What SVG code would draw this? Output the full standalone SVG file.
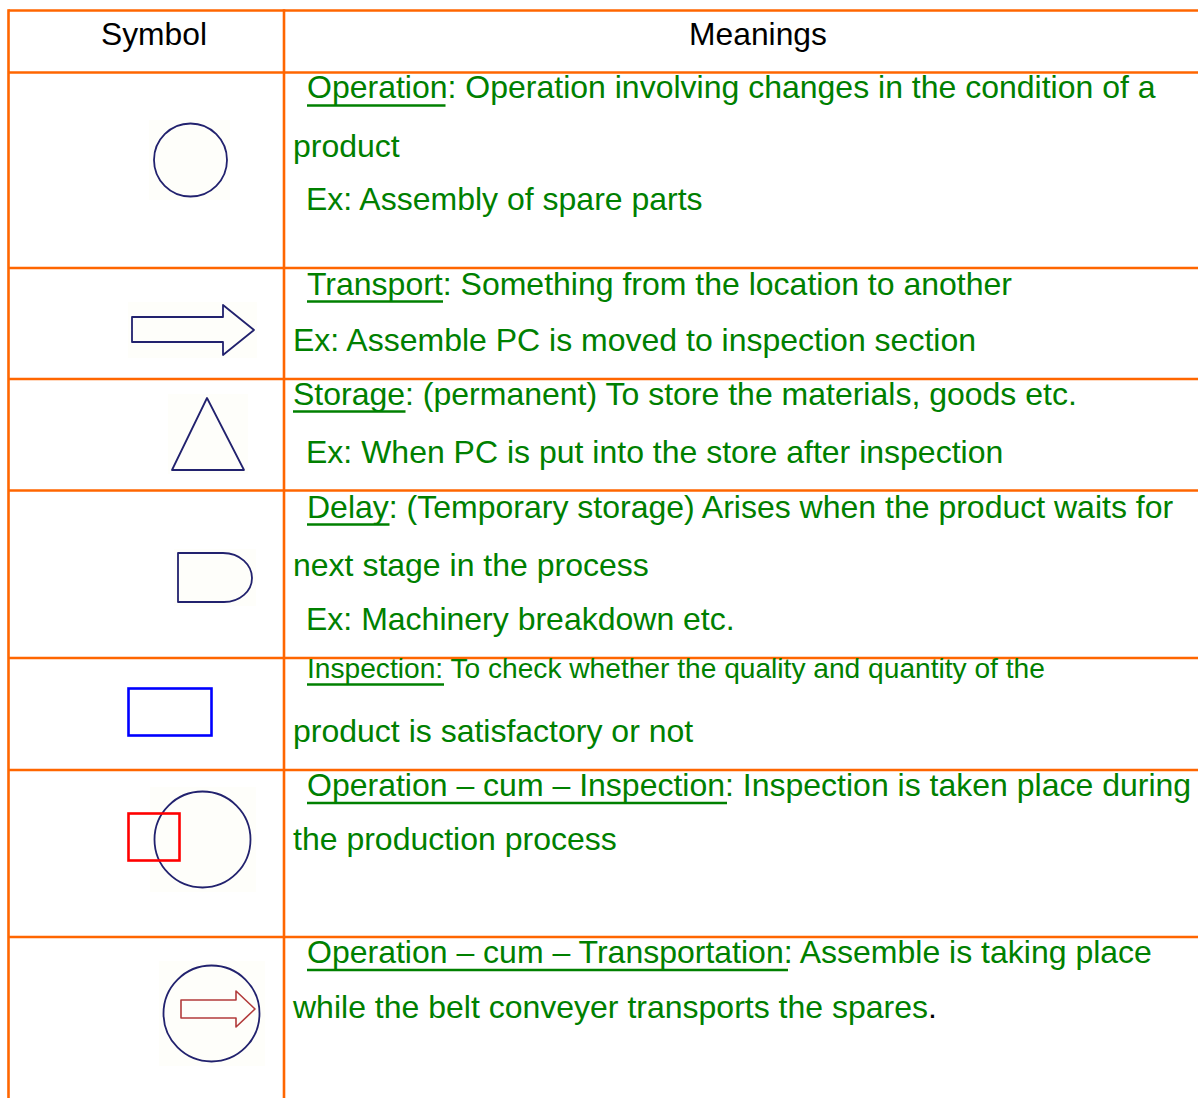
<svg xmlns="http://www.w3.org/2000/svg" width="1198" height="1098" viewBox="0 0 1198 1098">
  <style>
    .grid { stroke: #ff6600; stroke-width: 2.6; fill: none; }
    .head { font-family: "Liberation Sans", Arial, sans-serif; font-size: 31.8px; fill: #000000; text-anchor: middle; }
    .txt { font-family: "Liberation Sans", Arial, sans-serif; font-size: 32px; fill: #008000; }
    .small { font-size: 28.15px; }
    .ul { stroke: #008000; stroke-width: 2.6; }
    .sym { fill: none; stroke: #22226e; stroke-width: 1.8; stroke-linejoin: round; }
    .bg { fill: #fefefa; }
  </style>

  <rect x="0" y="0" width="1198" height="1098" fill="#ffffff"/>

  <!-- table grid -->
  <g id="grid">
    <line class="grid" x1="8.5" y1="10.5" x2="1198" y2="10.5"/>
    <line class="grid" x1="8.5" y1="72.5" x2="1198" y2="72.5"/>
    <line class="grid" x1="8.5" y1="268" x2="1198" y2="268"/>
    <line class="grid" x1="8.5" y1="379" x2="1198" y2="379"/>
    <line class="grid" x1="8.5" y1="490.5" x2="1198" y2="490.5"/>
    <line class="grid" x1="8.5" y1="658" x2="1198" y2="658"/>
    <line class="grid" x1="8.5" y1="770" x2="1198" y2="770"/>
    <line class="grid" x1="8.5" y1="937" x2="1198" y2="937"/>
    <line class="grid" x1="8.5" y1="9.2" x2="8.5" y2="1098"/>
    <line class="grid" x1="284" y1="9.2" x2="284" y2="1098"/>
  </g>

  <!-- column headings -->
  <g id="header">
    <text class="head" x="154" y="45">Symbol</text>
    <text class="head" x="758" y="45">Meanings</text>
  </g>

  <!-- operation: circle -->
  <g id="sym-operation">
    <rect class="bg" x="149" y="120" width="81" height="80"/>
    <circle class="sym" cx="190.5" cy="160" r="36.5"/>
  </g>

  <!-- transport: block arrow -->
  <g id="sym-transport">
    <rect class="bg" x="128" y="302" width="129" height="56"/>
    <path class="sym" d="M132,317 H223 V305 L254,330 L223,355 V342 H132 Z"/>
  </g>

  <!-- storage: triangle -->
  <g id="sym-storage">
    <rect class="bg" x="168" y="394" width="80" height="80"/>
    <path class="sym" d="M207,398 L244,470 H172 Z"/>
  </g>

  <!-- delay: D shape -->
  <g id="sym-delay">
    <rect class="bg" x="174" y="549" width="82" height="57"/>
    <path class="sym" d="M178,553 H223 C240,553 252,565 252,578 C252,591 240,602 224,602 H178 Z"/>
  </g>

  <!-- inspection: square -->
  <g id="sym-inspection">
    <rect x="128.5" y="688.5" width="83" height="47" fill="none" stroke="#0000ff" stroke-width="2.6"/>
  </g>

  <!-- operation cum inspection -->
  <g id="sym-op-inspection">
    <rect class="bg" x="150" y="787" width="106" height="105"/>
    <circle class="sym" cx="202.5" cy="839.5" r="48"/>
    <rect x="128.5" y="813.5" width="51" height="47" fill="none" stroke="#ff0000" stroke-width="2.6"/>
  </g>

  <!-- operation cum transportation -->
  <g id="sym-op-transport">
    <rect class="bg" x="159" y="961" width="106" height="105"/>
    <circle class="sym" cx="211.5" cy="1013.5" r="48"/>
    <path d="M181,1000 H236 V991 L255,1009 L236,1027 V1018 H181 Z" fill="none" stroke="#b23b3b" stroke-width="1.6" stroke-linejoin="round"/>
  </g>

  <!-- meanings -->
  <g id="row-operation">
    <text class="txt" x="307" y="98">Operation: Operation involving changes in the condition of a</text>
    <line class="ul" x1="307" y1="105.5" x2="445.5" y2="105.5"/>
    <text class="txt" x="293" y="157">product</text>
    <text class="txt" x="306" y="210">Ex: Assembly of spare parts</text>
  </g>

  <g id="row-transport">
    <text class="txt" x="307" y="294.5">Transport: Something from the location to another</text>
    <line class="ul" x1="307" y1="301.5" x2="443" y2="301.5"/>
    <text class="txt" x="293" y="351">Ex: Assemble PC is moved to inspection section</text>
  </g>

  <g id="row-storage">
    <text class="txt" x="293" y="404.5">Storage: (permanent) To store the materials, goods etc.</text>
    <line class="ul" x1="293" y1="411.5" x2="405.5" y2="411.5"/>
    <text class="txt" x="306" y="463">Ex: When PC is put into the store after inspection</text>
  </g>

  <g id="row-delay">
    <text class="txt" x="307" y="517.5">Delay: (Temporary storage) Arises when the product waits for</text>
    <line class="ul" x1="307" y1="524.5" x2="389.5" y2="524.5"/>
    <text class="txt" x="293" y="576">next stage in the process</text>
    <text class="txt" x="306" y="630">Ex: Machinery breakdown etc.</text>
  </g>

  <g id="row-inspection">
    <text class="txt small" x="307" y="678">Inspection: To check whether the quality and quantity of the</text>
    <line class="ul" x1="307" y1="684.5" x2="444" y2="684.5"/>
    <text class="txt" x="293" y="742">product is satisfactory or not</text>
  </g>

  <g id="row-op-inspection">
    <text class="txt" x="307" y="796">Operation – cum – Inspection: Inspection is taken place during</text>
    <line class="ul" x1="307" y1="803" x2="727" y2="803"/>
    <text class="txt" x="293" y="850">the production process</text>
  </g>

  <g id="row-op-transport">
    <text class="txt" x="307" y="962.5">Operation – cum – Transportation: Assemble is taking place</text>
    <line class="ul" x1="307" y1="970" x2="788" y2="970"/>
    <text class="txt" x="293" y="1018">while the belt conveyer transports the spares<tspan fill="#000000">.</tspan></text>
  </g>
</svg>
